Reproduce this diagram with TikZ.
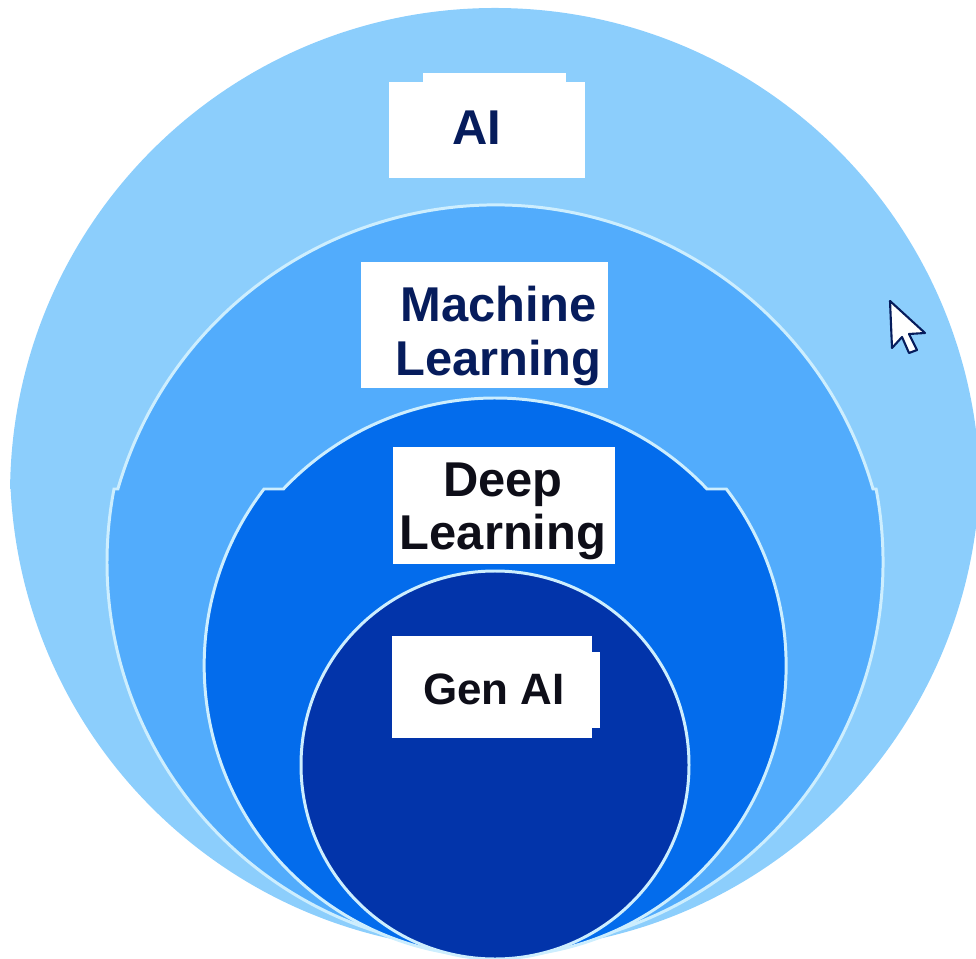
\documentclass[tikz,border=0pt]{standalone}
\usepackage{fontspec}
\setmainfont{Liberation Sans}
\usepackage{tikz}
\definecolor{aiblue}{RGB}{140,206,252}
\definecolor{mlblue}{RGB}{82,172,252}
\definecolor{dlblue}{RGB}{3,108,236}
\definecolor{genblue}{RGB}{2,52,170}
\definecolor{rimblue}{RGB}{205,238,254}
\definecolor{navytext}{RGB}{6,28,92}
\definecolor{darktext}{RGB}{14,14,24}
\tikzset{
	ring/.style={draw=rimblue,line width=.85pt},
	labelbox/.style={fill=white,draw=none,inner sep=0pt,outer sep=0pt},
	labeltext/.style={font=\fontsize{13.9}{15.1}\selectfont\bfseries,align=center,inner sep=0pt},
}
\begin{document}
\begin{tikzpicture}
\useasboundingbox (0,0) rectangle (9.76,9.58);
\clip (0,0) rectangle (9.76,9.58);
% circles
\fill[aiblue] (.106,4.69) arc [start angle=182.84,end angle=357.16,radius=4.85] -- (9.80,4.69)
	arc [start angle=.47,end angle=179.53,radius=4.85] -- cycle;
\draw[ring,fill=mlblue] (1.14,4.69) arc [start angle=169.15,end angle=370.85,radius=3.88] -- (8.73,4.69)
	arc [start angle=16.1,end angle=163.9,radius=3.93] -- cycle;
\draw[ring,fill=dlblue] (2.64,4.69) arc [start angle=142.6,end angle=397.4,radius=2.91] -- (7.07,4.69)
	arc [start angle=43.5,end angle=136.5,radius=2.92] -- cycle;
\draw[ring,fill=genblue] (4.95,1.93) circle [radius=1.94];
% pointer
\draw[draw=navytext,fill=white,line width=.6pt,line join=round] (8.90,6.57) -- (8.92,6.10) -- (9.02,6.21) -- (9.09,6.05) -- (9.17,6.08) -- (9.09,6.24) -- (9.25,6.25) -- cycle;
% labels
\node[labelbox,minimum width=1.96cm,minimum height=.96cm] (aibox) at (4.87,8.28) {};
\node[labelbox,minimum width=1.43cm,minimum height=.10cm] (aitab) at (4.945,8.80) {};
\node[labeltext,text=navytext] (ai) at (4.77,8.30) {AI};
\node[labelbox,minimum width=2.47cm,minimum height=1.26cm] (mlbox) at (4.845,6.33) {};
\node[labeltext,text=navytext] (ml) at (4.985,6.22) {Machine\\Learning};
\node[labelbox,minimum width=2.22cm,minimum height=1.17cm] (dlbox) at (5.04,4.525) {};
\node[labeltext,text=darktext] (dl) at (5.03,4.47) {Deep\\Learning};
\node[labelbox,minimum width=2.00cm,minimum height=1.02cm] (genbox) at (4.92,2.71) {};
\node[labelbox,minimum width=.08cm,minimum height=.76cm] (gentab) at (5.96,2.68) {};
\node[labeltext,text=darktext,font=\fontsize{12.5}{14}\selectfont\bfseries] (gen) at (4.94,2.69) {Gen AI};
\end{tikzpicture}
\end{document}
